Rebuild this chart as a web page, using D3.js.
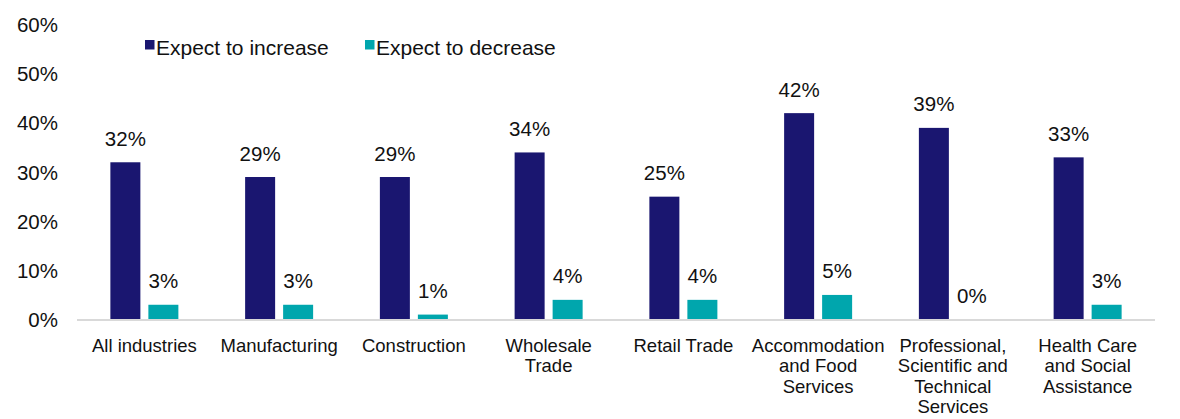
<!DOCTYPE html>
<html>
<head>
<meta charset="utf-8">
<script src="https://cdn.jsdelivr.net/npm/d3@7"></script>
<style>
  html, body { margin: 0; padding: 0; background: #fff; }
  svg { display: block; font-family: "Liberation Sans", Arial, sans-serif; }
</style>
</head>
<body>
<svg id="chart" width="1180" height="419"></svg>
<script>
const categories = [
  "All industries",
  "Manufacturing",
  "Construction",
  "Wholesale\nTrade",
  "Retail Trade",
  "Accommodation\nand Food\nServices",
  "Professional,\nScientific and\nTechnical\nServices",
  "Health Care\nand Social\nAssistance"
];
const seriesNames = ["Expect to increase", "Expect to decrease"];
const increaseValues = [32, 29, 29, 34, 25, 42, 39, 33];
const decreaseValues = [3, 3, 1, 4, 4, 5, 0, 3];
const yTicks = [0, 10, 20, 30, 40, 50, 60];
const colors = ["#1a1670", "#00a6ad"];

(function () {
const svg = d3.select("#chart");
const plotLeft = 77, plotRight = 1155, plotTop = 24.7, plotBottom = 319.5;

const x0 = d3.scaleBand().domain(categories).range([plotLeft, plotRight]).padding(0);
const x1 = d3.scaleBand().domain(seriesNames).range([0, x0.bandwidth()])
  .paddingInner(8 / 38).paddingOuter(((x0.bandwidth() - 68) / 2) / 38);
const y = d3.scaleLinear().domain([0, 60]).range([plotBottom, plotTop]);

// y tick labels
const yAxis = d3.axisLeft(y).tickValues(yTicks).tickFormat(d => d + "%").tickSize(0).tickPadding(0);
const gy = svg.append("g").attr("transform", "translate(58,0)").call(yAxis);
gy.select(".domain").remove();
gy.selectAll("text")
  .attr("font-size", "20.5px")
  .attr("font-family", "'Liberation Sans', Arial, sans-serif")
  .attr("fill", "#111")
  .attr("dy", "0.34em");

// bars
const rows = categories.map((c, i) => ({ cat: c, vals: [increaseValues[i], decreaseValues[i]] }));
const groups = svg.append("g").selectAll("g").data(rows).join("g")
  .attr("transform", d => `translate(${x0(d.cat)},0)`);

groups.selectAll("rect").data(d => d.vals.map((v, k) => ({ key: seriesNames[k], v, k })))
  .join("rect")
  .attr("x", d => x1(d.key))
  .attr("width", x1.bandwidth())
  .attr("y", d => y(d.v))
  .attr("height", d => y(0) - y(d.v))
  .attr("fill", d => colors[d.k]);

groups.selectAll("text.lbl").data(d => d.vals.map((v, k) => ({ key: seriesNames[k], v, k })))
  .join("text")
  .attr("class", "lbl")
  .attr("x", d => x1(d.key) + x1.bandwidth() / 2)
  .attr("y", d => y(d.v) - 16.5)
  .attr("text-anchor", "middle")
  .attr("font-size", "20.5px")
  .attr("fill", "#111")
  .text(d => d.v + "%");

// x axis line
svg.append("line")
  .attr("x1", plotLeft).attr("x2", plotRight)
  .attr("y1", y(0) + 0.5).attr("y2", y(0) + 0.5)
  .attr("stroke", "#d9d9d9").attr("stroke-width", 2);

// category labels
const xAxis = d3.axisBottom(x0).tickSize(0).tickFormat("");
const gx = svg.append("g").attr("transform", `translate(0,${plotBottom})`).call(xAxis);
gx.select(".domain").remove();
gx.selectAll(".tick").each(function(d) {
  const t = d3.select(this).append("text")
    .attr("text-anchor", "middle")
    .attr("font-size", "18.5px")
    .attr("font-family", "'Liberation Sans', Arial, sans-serif")
    .attr("fill", "#111")
    .attr("y", 32);
  d.split("\n").forEach((line, i) => {
    t.append("tspan").attr("x", 0).attr("dy", i === 0 ? 0 : 20.5).text(line);
  });
});

// legend
const legendX = [145, 365];
const legend = svg.append("g").selectAll("g").data(seriesNames).join("g")
  .attr("transform", (d, i) => `translate(${legendX[i]},40)`);
legend.append("rect").attr("width", 9.5).attr("height", 9.5).attr("fill", (d, i) => colors[i]);
legend.append("text")
  .attr("x", 11).attr("y", 15)
  .attr("font-size", "21px")
  .attr("fill", "#111")
  .text(d => d);
})();
</script>
</body>
</html>
